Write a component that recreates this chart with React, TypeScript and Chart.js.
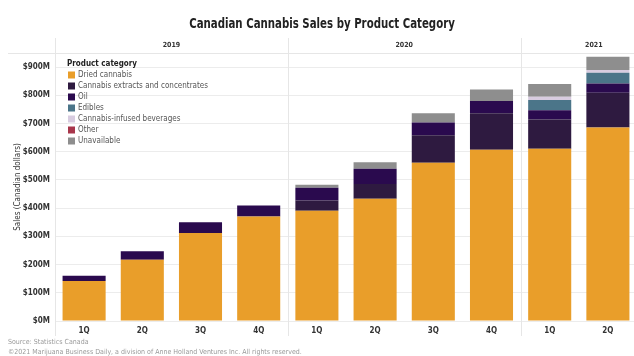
import React, { useEffect, useRef } from "react";
import { Chart, registerables } from "chart.js";

Chart.register(...registerables);

const quarters = ["1Q", "2Q", "3Q", "4Q", "1Q", "2Q", "3Q", "4Q", "1Q", "2Q"];
const years = ["2019", "2020", "2021"];
const yearSpans = [4, 4, 2];

const seriesNames = [
  "Dried cannabis",
  "Cannabis extracts and concentrates",
  "Oil",
  "Edibles",
  "Cannabis-infused beverages",
  "Other",
  "Unavailable",
];
const dried = [142, 217, 312, 370, 391, 433, 561, 607, 611, 686];
const extracts = [0, 0, 0, 0, 36, 53, 97, 129, 103, 123];
const oil = [18, 30, 38, 39, 45, 54, 46, 44, 33, 33];
const edibles = [0, 0, 0, 0, 0, 0, 0, 0, 36, 38];
const beverages = [0, 0, 0, 0, 0, 0, 0, 0, 12, 10];
const other = [0, 0, 0, 0, 0, 0, 0, 0, 0, 0];
const unavailable = [0, 0, 0, 0, 11, 23, 32, 41, 45, 47];
const seriesValues = [dried, extracts, oil, edibles, beverages, other, unavailable];
const seriesColors = ["#E99E2A", "#2E1A40", "#2A0A4E", "#4B7589", "#D8CCE0", "#A8364B", "#8E8E8E"];

const yTickValues = [0, 100, 200, 300, 400, 500, 600, 700, 800, 900];

const title = "Canadian Cannabis Sales by Product Category";
const yTitle = "Sales (Canadian dollars)";
const legendTitle = "Product category";
const sourceLine = "Source: Statistics Canada";
const copyrightLine = "©2021 Marijuana Business Daily, a division of Anne Holland Ventures Inc. All rights reserved.";

const FONT = "'Liberation Sans Narrow', 'DejaVu Sans Condensed', 'Arial Narrow', 'Roboto', sans-serif";

const decor = {
  id: "decor",
  afterDraw(chart: any) {
    const { ctx, chartArea } = chart;
    const x = chart.scales.x;
    ctx.save();
    // separators
    ctx.strokeStyle = "#e6e6e6";
    ctx.lineWidth = 1;
    const seps: number[] = [chartArea.left];
    let idx = 0;
    const groups: [number, number][] = [];
    let start = chartArea.left;
    yearSpans.forEach((s) => {
      idx += s;
      let end;
      if (idx < quarters.length) {
        end = (x.getPixelForValue(idx - 1) + x.getPixelForValue(idx)) / 2;
        seps.push(end);
      } else {
        end = chartArea.right + 30;
      }
      groups.push([start, end]);
      start = end;
    });
    seps.forEach((sx) => {
      ctx.beginPath();
      ctx.moveTo(Math.round(sx) + 0.5, 38);
      ctx.lineTo(Math.round(sx) + 0.5, 336);
      ctx.stroke();
    });
    ctx.beginPath();
    ctx.moveTo(8, Math.round(chartArea.top) + 0.5);
    ctx.lineTo(chart.width, Math.round(chartArea.top) + 0.5);
    ctx.stroke();

    // year labels
    ctx.fillStyle = "#333";
    ctx.font = `bold 7px ${FONT}`;
    ctx.textAlign = "center";
    ctx.textBaseline = "middle";
    groups.forEach(([a, b], i) => {
      ctx.fillText(years[i], (a + b) / 2, 45);
    });

    // title (condensed)
    ctx.save();
    ctx.translate(322, 24);
    ctx.scale(0.84, 1);
    ctx.font = `bold 13.5px ${FONT}`;
    ctx.fillStyle = "#222";
    ctx.fillText(title, 0, 0);
    ctx.restore();

    // y title
    ctx.save();
    ctx.translate(18, (chartArea.top + chartArea.bottom) / 2);
    ctx.rotate(-Math.PI / 2);
    ctx.font = `8px ${FONT}`;
    ctx.fillStyle = "#333";
    ctx.fillText(yTitle, 0, 0);
    ctx.restore();

    // legend
    ctx.textAlign = "left";
    ctx.font = `bold 8px ${FONT}`;
    ctx.fillStyle = "#222";
    ctx.fillText(legendTitle, 67, 64);
    ctx.font = `8px ${FONT}`;
    chart.data.datasets.forEach((ds: any, i: number) => {
      const cy = 75 + i * 11;
      ctx.fillStyle = ds.backgroundColor;
      ctx.fillRect(68, cy - 3.5, 7, 7);
      ctx.fillStyle = "#555";
      ctx.fillText(ds.label, 78, cy);
    });

    // footnotes
    ctx.font = `7px ${FONT}`;
    ctx.fillStyle = "#9a9a9a";
    ctx.fillText(sourceLine, 8, 342);
    ctx.fillText(copyrightLine, 8, 352);
    ctx.restore();
  },
};

export default function App() {
  const ref = useRef<HTMLCanvasElement | null>(null);
  useEffect(() => {
    document.body.style.margin = "0";
    document.body.style.overflow = "hidden";
    const canvas = ref.current;
    if (!canvas) return;
    const chart = new Chart(canvas, {
      type: "bar",
      data: {
        labels: quarters,
        datasets: seriesNames.map((name, i) => ({
          label: name,
          data: seriesValues[i],
          backgroundColor: seriesColors[i],
          borderWidth: 0,
          categoryPercentage: 1,
          barPercentage: 0.74,
        })),
      },
      options: {
        responsive: false,
        animation: false,
        devicePixelRatio: 1,
        layout: { padding: { top: 53, right: 3, left: 0, bottom: 0 } },
        plugins: {
          legend: { display: false },
          tooltip: { enabled: false },
          title: { display: false },
        },
        scales: {
          x: {
            stacked: true,
            grid: { display: false, drawTicks: false },
            border: { display: false },
            ticks: {
              color: "#333",
              font: { family: FONT, size: 8, weight: "bold" },
              padding: 5,
              maxRotation: 0,
              autoSkip: false,
            },
            afterFit(scale: any) {
              scale.height = 35;
            },
          },
          y: {
            stacked: true,
            min: 0,
            max: 950,
            grid: { color: "#ececec", drawTicks: false },
            border: { display: false },
            afterBuildTicks(scale: any) {
              scale.ticks = yTickValues.map((v) => ({ value: v }));
            },
            afterFit(scale: any) {
              scale.width = 55;
            },
            ticks: {
              color: "#333",
              font: { family: FONT, size: 8, weight: "bold" },
              padding: 5,
              callback: (v: any) => `$${v}M`,
            },
          },
        },
      },
      plugins: [decor],
    });
    return () => chart.destroy();
  }, []);
  return (
    <div style={{ width: 640, height: 356, overflow: "hidden" }}>
      <canvas ref={ref} width={640} height={356} style={{ display: "block" }} />
    </div>
  );
}
